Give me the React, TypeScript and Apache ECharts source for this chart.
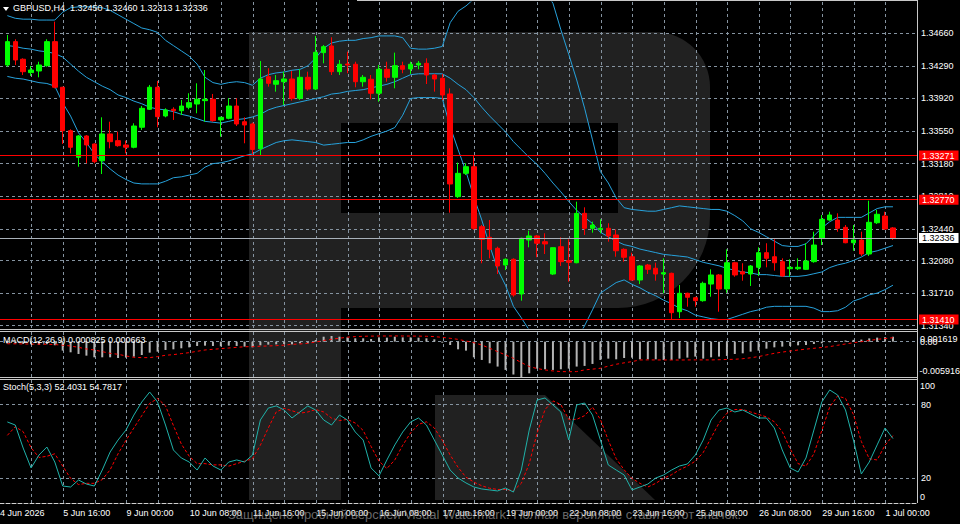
import React, { useEffect, useRef } from "react";
import * as echarts from "echarts";

const FONT = '"Liberation Sans", Arial, sans-serif';
const FS = 9;

const symbolName = "GBPUSD,H4";

// x-axis tick labels and the bar index each one belongs to
const tickLabels = [
  "4 Jun 2026", "5 Jun 16:00", "9 Jun 00:00", "10 Jun 08:00", "11 Jun 16:00",
  "15 Jun 00:00", "16 Jun 08:00", "17 Jun 16:00", "19 Jun 00:00", "22 Jun 08:00",
  "23 Jun 16:00", "25 Jun 00:00", "26 Jun 08:00", "29 Jun 16:00", "1 Jul 00:00",
];
const tickBars = [-1, 7, 15, 23, 31, 39, 47, 55, 63, 71, 79, 87, 95, 103, 111];

const opens = [
  1.34300, 1.34565, 1.34365, 1.34213, 1.34232, 1.34292, 1.34565, 1.34047, 1.33554, 1.33252,
  1.33494, 1.33403, 1.33213, 1.33517, 1.33441, 1.33392, 1.33366, 1.33593, 1.33797, 1.34047,
  1.33721, 1.33797, 1.33781, 1.33820, 1.33857, 1.33895, 1.33911, 1.33676, 1.33695, 1.33834,
  1.33656, 1.33630, 1.33349, 1.34167, 1.34081, 1.34110, 1.34141, 1.33922, 1.34160, 1.34027,
  1.34440, 1.34516, 1.34224, 1.34311, 1.34308, 1.34110, 1.34138, 1.33979, 1.34251, 1.34160,
  1.34292, 1.34255, 1.34300, 1.34319, 1.34186, 1.34149, 1.33971, 1.32805, 1.33070, 1.33145,
  1.32464, 1.32344, 1.32219, 1.32029, 1.32094, 1.31700, 1.32313, 1.32359, 1.32294, 1.31927,
  1.32237, 1.32078, 1.32055, 1.32616, 1.32446, 1.32434, 1.32446, 1.32370, 1.32207, 1.32123,
  1.31859, 1.32029, 1.31992, 1.31927, 1.31935, 1.31499, 1.31708, 1.31658, 1.31624, 1.31813,
  1.31916, 1.31757, 1.32055, 1.31953, 1.31927, 1.32003, 1.32169, 1.32123, 1.32067, 1.31987,
  1.31987, 1.31980, 1.32067, 1.32332, 1.32540, 1.32540, 1.32457, 1.32282, 1.32313, 1.32154,
  1.32509, 1.32585, 1.32450,
];
const highs = [
  1.34641, 1.34592, 1.34376, 1.34289, 1.34337, 1.34592, 1.34792, 1.34052, 1.33570, 1.33505,
  1.33505, 1.33411, 1.33706, 1.33656, 1.33543, 1.33441, 1.33638, 1.33834, 1.34073, 1.34118,
  1.33808, 1.33820, 1.33903, 1.33979, 1.34092, 1.34243, 1.33971, 1.33713, 1.33922, 1.33922,
  1.33706, 1.33645, 1.34345, 1.34263, 1.34186, 1.34224, 1.34232, 1.34251, 1.34224, 1.34629,
  1.34527, 1.34614, 1.34357, 1.34451, 1.34337, 1.34186, 1.34186, 1.34300, 1.34337, 1.34440,
  1.34337, 1.34337, 1.34345, 1.34376, 1.34198, 1.34198, 1.34035, 1.33191, 1.33184, 1.33267,
  1.32483, 1.32540, 1.32237, 1.32105, 1.32105, 1.32339, 1.32419, 1.32370, 1.32389, 1.32230,
  1.32344, 1.32321, 1.32748, 1.32684, 1.32521, 1.32548, 1.32503, 1.32434, 1.32219, 1.32169,
  1.32029, 1.32041, 1.32055, 1.32105, 1.31942, 1.31802, 1.31715, 1.31669, 1.31840, 1.31980,
  1.31927, 1.32207, 1.32067, 1.32049, 1.32029, 1.32230, 1.32276, 1.32321, 1.32105, 1.32094,
  1.32105, 1.32276, 1.32407, 1.32597, 1.32634, 1.32616, 1.32483, 1.32483, 1.32407, 1.32759,
  1.32654, 1.32634, 1.32460,
];
const lows = [
  1.34281, 1.34300, 1.34186, 1.34175, 1.34160, 1.34281, 1.34035, 1.33403, 1.33297, 1.33145,
  1.33184, 1.33184, 1.33062, 1.33354, 1.33372, 1.33297, 1.33354, 1.33562, 1.33789, 1.33593,
  1.33706, 1.33676, 1.33732, 1.33797, 1.33752, 1.33656, 1.33656, 1.33486, 1.33683, 1.33607,
  1.33411, 1.33289, 1.33267, 1.34054, 1.33997, 1.33846, 1.33895, 1.33903, 1.34008, 1.34016,
  1.34319, 1.34186, 1.34186, 1.34206, 1.34047, 1.34054, 1.33911, 1.33883, 1.34110, 1.34035,
  1.34206, 1.34198, 1.34251, 1.34084, 1.33997, 1.33903, 1.32623, 1.32790, 1.33051, 1.32427,
  1.32049, 1.32105, 1.31927, 1.31972, 1.31669, 1.31624, 1.32230, 1.32117, 1.32154, 1.31916,
  1.32018, 1.31840, 1.32049, 1.32370, 1.32396, 1.32389, 1.32294, 1.32123, 1.32067, 1.31851,
  1.31813, 1.31927, 1.31851, 1.31708, 1.31405, 1.31427, 1.31556, 1.31556, 1.31613, 1.31669,
  1.31499, 1.31715, 1.31896, 1.31851, 1.31791, 1.31904, 1.32003, 1.31965, 1.31896, 1.31896,
  1.31972, 1.31972, 1.32055, 1.32256, 1.32532, 1.32407, 1.32276, 1.32191, 1.32131, 1.32131,
  1.32495, 1.32427, 1.32313,
];
const closes = [
  1.34565, 1.34357, 1.34224, 1.34243, 1.34300, 1.34565, 1.34047, 1.33554, 1.33366, 1.33494,
  1.33392, 1.33202, 1.33517, 1.33429, 1.33384, 1.33366, 1.33607, 1.33808, 1.34047, 1.33713,
  1.33789, 1.33781, 1.33834, 1.33872, 1.33911, 1.33911, 1.33668, 1.33706, 1.33834, 1.33630,
  1.33619, 1.33341, 1.34141, 1.34092, 1.34122, 1.34141, 1.33922, 1.34160, 1.34027, 1.34444,
  1.34508, 1.34224, 1.34308, 1.34300, 1.34110, 1.34160, 1.33979, 1.34251, 1.34160, 1.34292,
  1.34251, 1.34308, 1.34319, 1.34186, 1.34141, 1.33959, 1.32949, 1.33070, 1.33145, 1.32446,
  1.32321, 1.32207, 1.32018, 1.32094, 1.31689, 1.32332, 1.32359, 1.32276, 1.32268, 1.32226,
  1.32067, 1.32060, 1.32616, 1.32446, 1.32483, 1.32446, 1.32359, 1.32191, 1.32117, 1.31859,
  1.32018, 1.31980, 1.31927, 1.31942, 1.31488, 1.31708, 1.31663, 1.31624, 1.31821, 1.31916,
  1.31757, 1.32055, 1.31916, 1.31927, 1.32018, 1.32169, 1.32105, 1.32055, 1.31904, 1.32003,
  1.32003, 1.32075, 1.32256, 1.32548, 1.32597, 1.32446, 1.32282, 1.32313, 1.32154, 1.32514,
  1.32605, 1.32438, 1.32336,
];

const bbUpper = [
  1.3486, 1.3483, 1.3482, 1.3482, 1.3481, 1.3481, 1.3481, 1.3490, 1.3495, 1.3496,
  1.3496, 1.3496, 1.3495, 1.3492, 1.3487, 1.3482, 1.3477, 1.3472, 1.3470, 1.3467,
  1.3458, 1.3452, 1.3446, 1.3440, 1.3431, 1.3416, 1.3410, 1.3408, 1.3410, 1.3411,
  1.3410, 1.3407, 1.3415, 1.3419, 1.3421, 1.3422, 1.3424, 1.3425, 1.3429, 1.3438,
  1.3449, 1.3455, 1.3457, 1.3458, 1.3458, 1.3460, 1.3461, 1.3463, 1.3463, 1.3463,
  1.3461, 1.3449, 1.3448, 1.3448, 1.3449, 1.3451, 1.3478, 1.3491, 1.3497, 1.3505,
  1.3511, 1.3520, 1.3528, 1.3528, 1.3529, 1.3524, 1.3520, 1.3521, 1.3514, 1.3500,
  1.3470, 1.3442, 1.3413, 1.3381, 1.3345, 1.3309, 1.3296, 1.3279, 1.3268, 1.3266,
  1.3265, 1.3264, 1.3264, 1.3266, 1.3268, 1.3270, 1.3269, 1.3268, 1.3267, 1.3266,
  1.3266, 1.3264, 1.3259, 1.3253, 1.3244, 1.3240, 1.3235, 1.3230, 1.3225, 1.3224,
  1.3224, 1.3227, 1.3236, 1.3245, 1.3252, 1.3257, 1.3257, 1.3257, 1.3257, 1.3262,
  1.3267, 1.3269, 1.3269,
];
const bbMiddle = [
  1.3452, 1.3451, 1.3449, 1.3448, 1.3446, 1.3445, 1.3443, 1.3439, 1.3431, 1.3423,
  1.3416, 1.3411, 1.3406, 1.3402, 1.3396, 1.3393, 1.3389, 1.3386, 1.3382, 1.3380,
  1.3379, 1.3377, 1.3374, 1.3372, 1.3369, 1.3366, 1.3365, 1.3364, 1.3366, 1.3368,
  1.3369, 1.3371, 1.3374, 1.3379, 1.3382, 1.3384, 1.3386, 1.3388, 1.3390, 1.3392,
  1.3394, 1.3397, 1.3398, 1.3400, 1.3401, 1.3402, 1.3404, 1.3406, 1.3408, 1.3411,
  1.3415, 1.3419, 1.3420, 1.3420, 1.3420, 1.3420, 1.3415, 1.3408, 1.3402, 1.3393,
  1.3382, 1.3372, 1.3363, 1.3354, 1.3343, 1.3334, 1.3325, 1.3317, 1.3307, 1.3296,
  1.3286, 1.3275, 1.3265, 1.3257, 1.3250, 1.3240, 1.3235, 1.3230, 1.3226, 1.3224,
  1.3221, 1.3219, 1.3217, 1.3215, 1.3214, 1.3213, 1.3212, 1.3209, 1.3206, 1.3204,
  1.3202, 1.3199, 1.3197, 1.3195, 1.3194, 1.3192, 1.3192, 1.3191, 1.3190, 1.3190,
  1.3190, 1.3191, 1.3193, 1.3195, 1.3200, 1.3203, 1.3205, 1.3208, 1.3212, 1.3217,
  1.3219, 1.3222, 1.3225,
];
const bbLower = [
  1.3417, 1.3415, 1.3414, 1.3412, 1.3410, 1.3409, 1.3406, 1.3387, 1.3372, 1.3353,
  1.3342, 1.3329, 1.3320, 1.3312, 1.3305, 1.3300, 1.3296, 1.3295, 1.3295, 1.3295,
  1.3298, 1.3302, 1.3303, 1.3305, 1.3307, 1.3314, 1.3318, 1.3319, 1.3321, 1.3324,
  1.3327, 1.3329, 1.3334, 1.3338, 1.3342, 1.3344, 1.3345, 1.3344, 1.3343, 1.3342,
  1.3339, 1.3340, 1.3341, 1.3342, 1.3342, 1.3345, 1.3349, 1.3352, 1.3355, 1.3359,
  1.3373, 1.3392, 1.3393, 1.3393, 1.3393, 1.3392, 1.3360, 1.3334, 1.3309, 1.3280,
  1.3254, 1.3225, 1.3198, 1.3180, 1.3156, 1.3143, 1.3129, 1.3112, 1.3101, 1.3095,
  1.3095, 1.3104, 1.3118, 1.3134, 1.3152, 1.3171, 1.3177, 1.3183, 1.3186, 1.3181,
  1.3177, 1.3172, 1.3168, 1.3163, 1.3159, 1.3154, 1.3151, 1.3146, 1.3144, 1.3142,
  1.3141, 1.3141, 1.3144, 1.3147, 1.3150, 1.3152, 1.3155, 1.3156, 1.3156, 1.3156,
  1.3156, 1.3156, 1.3154, 1.3150, 1.3150, 1.3151, 1.3155, 1.3162, 1.3165, 1.3169,
  1.3171, 1.3175, 1.3180,
];

const macdMain = [
  -0.00030, -0.00032, -0.00038, -0.00045, -0.00050, -0.00042, -0.00060, -0.00150, -0.00178, -0.00206,
  -0.00234, -0.00262, -0.00262, -0.00262, -0.00273, -0.00267, -0.00250, -0.00223, -0.00184, -0.00167,
  -0.00139, -0.00128, -0.00111, -0.00095, -0.00072, -0.00067, -0.00072, -0.00078, -0.00067, -0.00072,
  -0.00083, -0.00095, -0.00061, -0.00050, -0.00045, -0.00039, -0.00045, -0.00028, -0.00028, 0.00028,
  0.00083, 0.00095, 0.00083, 0.00072, 0.00056, 0.00056, 0.00045, 0.00072, 0.00067, 0.00083,
  0.00072, 0.00072, 0.00067, 0.00056, 0.00039, -0.00017, -0.00056, -0.00128, -0.00150, -0.00262,
  -0.00306, -0.00362, -0.00417, -0.00473, -0.00550, -0.005916, -0.00530, -0.00451, -0.00462, -0.00473,
  -0.00462, -0.00451, -0.00417, -0.00406, -0.00373, -0.00306, -0.00284, -0.00295, -0.00273, -0.00267,
  -0.00295, -0.00295, -0.00295, -0.00306, -0.00306, -0.00284, -0.00267, -0.00250, -0.00284, -0.00262,
  -0.00250, -0.00239, -0.00206, -0.00195, -0.00167, -0.00150, -0.00117, -0.00095, -0.00083, -0.00072,
  -0.00061, -0.00056, -0.00039, -0.00028, -0.00010, 0.00005, 0.00020, 0.00030, 0.00035, 0.00055,
  0.00068, 0.00075, 0.000825,
];
const macdSignal = [
  -0.00035, -0.00036, -0.00038, -0.00040, -0.00042, -0.00044, -0.00048, -0.00060, -0.00072, -0.00095,
  -0.00122, -0.00139, -0.00167, -0.00195, -0.00211, -0.00239, -0.00262, -0.00267, -0.00267, -0.00250,
  -0.00228, -0.00217, -0.00200, -0.00184, -0.00161, -0.00139, -0.00128, -0.00117, -0.00106, -0.00095,
  -0.00085, -0.00083, -0.00076, -0.00072, -0.00067, -0.00058, -0.00045, -0.00039, -0.00028, -0.00006,
  0.00020, 0.00040, 0.00058, 0.00075, 0.00085, 0.00090, 0.00093, 0.00095, 0.00095, 0.00096,
  0.00095, 0.00094, 0.00093, 0.00090, 0.00085, 0.00072, 0.00056, 0.00039, 0.00011, -0.00017,
  -0.00056, -0.00110, -0.00167, -0.00222, -0.00278, -0.00350, -0.00417, -0.00450, -0.00473, -0.00490,
  -0.00501, -0.00503, -0.00501, -0.00473, -0.00460, -0.00445, -0.00410, -0.00378, -0.00355, -0.00334,
  -0.00306, -0.00305, -0.00306, -0.00306, -0.00307, -0.00307, -0.00306, -0.00305, -0.00305, -0.00306,
  -0.00302, -0.00298, -0.00295, -0.00285, -0.00270, -0.00250, -0.00222, -0.00195, -0.00175, -0.00156,
  -0.00140, -0.00125, -0.00111, -0.00097, -0.00083, -0.00060, -0.00039, -0.00018, 0.00000, 0.00020,
  0.00039, 0.00052, 0.000663,
];

const stochMain = [
  65.9, 63.4, 44.7, 28.5, 39.0, 45.5, 33.3, 13.8, 13.0, 18.7,
  15.4, 13.8, 26.8, 41.5, 51.2, 59.3, 71.5, 82.1, 90.2, 82.1,
  63.4, 43.1, 36.6, 33.3, 26.8, 36.6, 30.1, 26.8, 33.3, 35.0,
  33.3, 39.0, 67.5, 77.2, 78.9, 75.6, 69.1, 74.0, 78.9, 75.6,
  67.5, 63.4, 71.5, 67.5, 57.7, 51.2, 28.5, 22.0, 35.0, 47.2,
  57.7, 65.9, 69.1, 63.4, 51.2, 39.0, 26.8, 20.3, 16.3, 13.0,
  11.4, 10.6, 9.8, 12.2, 8.9, 26.8, 59.3, 83.7, 85.4, 79.7,
  74.0, 51.2, 79.7, 81.3, 71.5, 51.2, 30.9, 26.8, 22.8, 10.6,
  13.0, 15.4, 20.3, 22.8, 26.8, 30.1, 31.7, 39.0, 51.2, 67.5,
  75.6, 77.2, 74.0, 75.6, 72.4, 69.1, 69.1, 61.0, 43.1, 28.5,
  25.2, 36.6, 59.3, 82.1, 91.9, 87.8, 75.6, 51.2, 23.6, 33.3,
  47.2, 61.0, 52.4031,
];
const stochSignal = [
  55, 62, 58, 45, 37, 38, 40, 30, 20, 15,
  16, 16, 19, 27, 40, 51, 61, 71, 81, 85,
  79, 63, 48, 38, 32, 32, 31, 31, 30, 32,
  34, 36, 47, 61, 74, 77, 75, 73, 74, 76,
  74, 69, 67, 68, 65, 59, 46, 34, 28, 35,
  47, 57, 64, 66, 61, 51, 39, 29, 21, 17,
  14, 12, 11, 11, 10, 16, 32, 57, 76, 83,
  80, 68, 68, 71, 78, 68, 51, 36, 27, 20,
  16, 13, 16, 20, 23, 27, 30, 34, 41, 53,
  65, 73, 76, 76, 74, 72, 70, 66, 58, 44,
  32, 30, 40, 59, 78, 87, 85, 72, 50, 36,
  35, 47, 54.7817,
];

const priceTicks = [1.3466, 1.3429, 1.3392, 1.3355, 1.3318, 1.3281, 1.3244, 1.3208, 1.3171, 1.3134];
const priceLevels = [1.33271, 1.3277, 1.3141];
const priceRange = [1.31314, 1.35015];
const macdRange = [-0.005916, 0.001619];
const stochLevels = [80, 20];

const X_MIN = -0.93;
const X_MAX = 115.04;

const GRID_COLOR = "#8593a0";
const BB_COLOR = "#27a2dc";
const WM = "rgba(255,255,255,0.13)";

function xLabel(v: number) {
  const i = Math.round(v);
  const k = tickBars.indexOf(i);
  return k >= 0 ? tickLabels[k] : "";
}

function buildOption() {
  const last = closes.length - 1;
  const candleData = opens.map((o, i) => [i, o, closes[i], lows[i], highs[i]]);
  const xy = (arr: number[]) => arr.map((v, i) => [i, v]);
  const f5 = (v: number) => v.toFixed(5);

  const xBase = (gridIndex: number, bottom: boolean) => ({
    type: "value",
    gridIndex,
    min: X_MIN,
    max: X_MAX,
    interval: 4,
    axisLine: { show: bottom, onZero: false, lineStyle: { color: "#d0d0d0", type: [4, 2], width: 1 } },
    axisTick: { show: false },
    axisLabel: bottom
      ? {
          show: true,
          color: "#ffffff",
          fontSize: FS,
          fontFamily: FONT,
          align: "left",
          margin: 5,
          showMinLabel: true,
          showMaxLabel: false,
          formatter: xLabel,
        }
      : { show: false },
    splitLine: {
      show: true,
      showMinLine: false,
      showMaxLine: false,
      lineStyle: { color: GRID_COLOR, type: [3, 3], width: 1 },
    },
  });

  const axisText = { color: "#ffffff", fontSize: FS, fontFamily: FONT };

  const tickMarkLine = (values: number[], names: string[]) => ({
    silent: true,
    symbol: ["none", "none"],
    z: 1,
    precision: 6,
    animation: false,
    label: { show: true, position: "end", distance: 4, formatter: "{b}", ...axisText },
    lineStyle: { color: GRID_COLOR, type: [3, 3], width: 1 },
    emphasis: { disabled: true },
    data: values.map((v, i) => ({ yAxis: v, name: names[i] })),
  });

  const boxLabel = (bg: string, fg: string) => ({
    show: true,
    position: "end",
    distance: 2,
    formatter: "{b}",
    backgroundColor: bg,
    color: fg,
    fontSize: FS,
    fontFamily: FONT,
    lineHeight: 10,
    padding: [0, 4, 0, 3],
  });

  const levelMarkLine = {
    silent: true,
    symbol: ["none", "none"],
    z: 6,
    precision: 6,
    animation: false,
    emphasis: { disabled: true },
    data: [
      ...priceLevels.map((v) => ({
        yAxis: v,
        name: f5(v),
        lineStyle: { color: "#ff0000", type: "solid", width: 1 },
        label: boxLabel("#ff0000", "#ffffff"),
      })),
      {
        yAxis: closes[last],
        name: f5(closes[last]),
        lineStyle: { color: "#a9b1b9", type: "solid", width: 1 },
        label: boxLabel("#ffffff", "#000000"),
      },
    ],
  };

  const txt = (x: number, y: number, text: string, size = FS, fill = "#ffffff") => ({
    type: "text",
    x,
    y,
    silent: true,
    z: 20,
    style: {
      text,
      fill,
      font: `${size}px ${FONT}`,
      verticalAlign: "middle",
      textVerticalAlign: "middle",
    },
  });

  const hline = (y: number, x1: number, x2: number, color = "#c8c8c8") => ({
    type: "line",
    silent: true,
    z: 15,
    shape: { x1, y1: y, x2, y2: y },
    style: { stroke: color, lineWidth: 1 },
  });

  const header = `${symbolName}  ${f5(opens[last])} ${f5(highs[last])} ${f5(lows[last])} ${f5(closes[last])}`;
  const macdHeader = `MACD(12,26,9) ${macdMain[last].toFixed(6)} ${macdSignal[last].toFixed(6)}`;
  const stochHeader = `Stoch(5,3,3) ${stochMain[last].toFixed(4)} ${stochSignal[last].toFixed(4)}`;

  return {
    animation: false,
    backgroundColor: "#000000",
    grid: [
      { left: 0, top: 2, width: 917, height: 326, outerBoundsMode: "none" },
      { left: 0, top: 332, width: 917, height: 45, outerBoundsMode: "none" },
      { left: 0, top: 380, width: 917, height: 123, outerBoundsMode: "none" },
    ],
    xAxis: [xBase(0, false), xBase(1, false), xBase(2, true)],
    yAxis: [
      { type: "value", gridIndex: 0, min: priceRange[0], max: priceRange[1], show: false },
      { type: "value", gridIndex: 1, min: macdRange[0], max: macdRange[1], show: false },
      { type: "value", gridIndex: 2, min: 0, max: 100, show: false },
    ],
    series: [
      {
        type: "candlestick",
        name: symbolName,
        xAxisIndex: 0,
        yAxisIndex: 0,
        data: candleData,
        encode: { x: 0, y: [1, 2, 3, 4] },
        barWidth: 5,
        z: 3,
        silent: true,
        itemStyle: {
          color: "#00ff00",
          color0: "#ff0000",
          borderColor: "#00ff00",
          borderColor0: "#ff0000",
          borderWidth: 1,
        },
        markLine: tickMarkLine(priceTicks, priceTicks.map(f5)),
      },
      {
        type: "line",
        name: "BB upper",
        xAxisIndex: 0,
        yAxisIndex: 0,
        data: xy(bbUpper),
        showSymbol: false,
        symbol: "none",
        silent: true,
        z: 2,
        lineStyle: { color: BB_COLOR, width: 1 },
      },
      {
        type: "line",
        name: "BB middle",
        xAxisIndex: 0,
        yAxisIndex: 0,
        data: xy(bbMiddle),
        showSymbol: false,
        symbol: "none",
        silent: true,
        z: 2,
        lineStyle: { color: BB_COLOR, width: 1 },
      },
      {
        type: "line",
        name: "BB lower",
        xAxisIndex: 0,
        yAxisIndex: 0,
        data: xy(bbLower),
        showSymbol: false,
        symbol: "none",
        silent: true,
        z: 2,
        lineStyle: { color: BB_COLOR, width: 1 },
        markLine: levelMarkLine,
      },
      {
        type: "bar",
        name: "MACD",
        xAxisIndex: 1,
        yAxisIndex: 1,
        data: xy(macdMain),
        barWidth: 2,
        silent: true,
        z: 3,
        itemStyle: { color: "#b4b4b4" },
        markLine: tickMarkLine([0], [""]),
      },
      {
        type: "line",
        name: "MACD signal",
        xAxisIndex: 1,
        yAxisIndex: 1,
        data: xy(macdSignal),
        showSymbol: false,
        symbol: "none",
        silent: true,
        z: 4,
        lineStyle: { color: "#ff0000", width: 1, type: [3, 3] },
      },
      {
        type: "line",
        name: "Stoch main",
        xAxisIndex: 2,
        yAxisIndex: 2,
        data: xy(stochMain),
        showSymbol: false,
        symbol: "none",
        silent: true,
        z: 4,
        lineStyle: { color: "#20b2aa", width: 1 },
        markLine: tickMarkLine(stochLevels, stochLevels.map(String)),
      },
      {
        type: "line",
        name: "Stoch signal",
        xAxisIndex: 2,
        yAxisIndex: 2,
        data: xy(stochSignal),
        showSymbol: false,
        symbol: "none",
        silent: true,
        z: 3,
        lineStyle: { color: "#ff0000", width: 1, type: [3, 2] },
      },
    ],
    graphic: {
      elements: [
        // translucent logo watermark
        { type: "rect", silent: true, z: 0, shape: { x: 249, y: 32, width: 92, height: 468 }, style: { fill: WM } },
        { type: "rect", silent: true, z: 0, shape: { x: 341, y: 32, width: 277, height: 91 }, style: { fill: WM } },
        { type: "rect", silent: true, z: 0, shape: { x: 341, y: 213, width: 277, height: 95 }, style: { fill: WM } },
        { type: "rect", silent: true, z: 0, shape: { x: 618, y: 32, width: 92, height: 276, r: [0, 55, 92, 0] }, style: { fill: WM } },
        { type: "polygon", silent: true, z: 0, shape: { points: [[435, 395], [545, 395], [655, 500], [435, 500]] }, style: { fill: WM } },
        // frame
        hline(0.5, 357, 917),
        hline(329.5, 0, 917),
        hline(331.5, 0, 917),
        hline(377.5, 0, 917),
        hline(379.5, 0, 917),
        {
          type: "line",
          silent: true,
          z: 15,
          shape: { x1: 917.5, y1: 0, x2: 917.5, y2: 503 },
          style: { stroke: "#c8c8c8", lineWidth: 1 },
        },
        // headers
        {
          type: "polygon",
          silent: true,
          z: 20,
          shape: { points: [[3, 7], [9, 7], [6, 11]] },
          style: { fill: "#ffffff" },
        },
        txt(13, 8, header),
        txt(3, 340, macdHeader),
        txt(3, 387, stochHeader),
        // indicator window scale labels
        txt(920, 338.5, "0.001619"),
        txt(920, 342, "0.00"),
        txt(919.5, 371, "-0.005916"),
        txt(920, 386, "100"),
        txt(920, 497, "0"),
        // trial watermark text
        {
          type: "text",
          x: 228,
          y: 514,
          silent: true,
          z: 25,
          style: {
            text: "Защищено пробной версией Visual Watermark. Полная версия не ставит этот значок.",
            fill: "rgba(175,175,175,0.6)",
            font: '13px "Liberation Sans", Arial, sans-serif',
            verticalAlign: "middle",
            textVerticalAlign: "middle",
          },
        },
      ],
    },
  };
}

export default function App() {
  const ref = useRef<HTMLDivElement>(null);
  useEffect(() => {
    if (!ref.current) return;
    const chart = echarts.init(ref.current, null, { renderer: "svg" });
    chart.setOption(buildOption() as any);
    return () => chart.dispose();
  }, []);
  return (
    <div
      ref={ref}
      style={{ position: "fixed", left: 0, top: 0, width: 960, height: 524, background: "#000" }}
    />
  );
}
